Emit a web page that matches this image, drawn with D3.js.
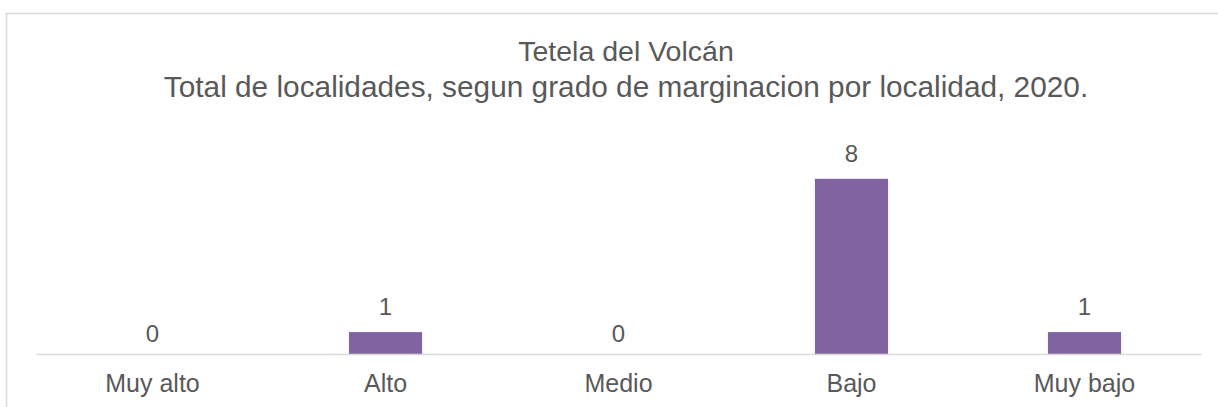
<!DOCTYPE html>
<meta charset="utf-8">
<title>Tetela del Volcán</title>
<script src="https://d3js.org/d3.v7.min.js"></script>
<style>
  body { margin: 0; background: #fff; }
  text { font-family: Arial, "Liberation Sans", sans-serif; fill: #595959; }
</style>
<body>
<svg id="chart" width="1218" height="407"></svg>
<script>

// data
var categories = ["Muy alto", "Alto", "Medio", "Bajo", "Muy bajo"];
var values = [0, 1, 0, 8, 1];
var titleLines = ["Tetela del Volcán",
  "Total de localidades, segun grado de marginacion por localidad, 2020."];

var svg = d3.select("#chart"),
    width = +svg.attr("width"),
    height = +svg.attr("height");

// outer frame (runs off the right and bottom edges in the original)
svg.append("rect")
    .attr("x", 6.5).attr("y", 13.5)
    .attr("width", width + 10).attr("height", height + 10)
    .attr("fill", "none")
    .attr("stroke", "#d9d9d9")
    .attr("stroke-width", 1.5);

var x = d3.scaleBand()
    .domain(categories)
    .range([36, 1201])
    .paddingInner(0.686)
    .paddingOuter(0.343);

var y = d3.scaleLinear()
    .domain([0, 10])
    .range([354, 135]);

// title
svg.append("g").selectAll("text")
    .data(titleLines)
  .enter().append("text")
    .attr("x", 626)
    .attr("y", function(d, i) { return 61 + i * 36; })
    .attr("text-anchor", "middle")
    .style("font-size", function(d, i) { return i ? "29.8px" : "28.5px"; })
    .text(function(d) { return d; });

// bars
svg.append("g").selectAll("rect")
    .data(values)
  .enter().append("rect")
    .attr("x", function(d, i) { return x(categories[i]); })
    .attr("y", function(d) { return y(d); })
    .attr("width", x.bandwidth())
    .attr("height", function(d) { return y(0) - y(d); })
    .attr("fill", "#8064a2");

// value labels
svg.append("g").selectAll("text")
    .data(values)
  .enter().append("text")
    .attr("x", function(d, i) { return x(categories[i]) + x.bandwidth() / 2; })
    .attr("y", function(d) { return y(d) - (d > 0 ? 17 : 12); })
    .attr("text-anchor", "middle")
    .style("font-size", "24px")
    .text(function(d) { return d; });

// category axis
var axis = svg.append("g")
    .attr("transform", "translate(0," + y(0) + ")")
    .call(d3.axisBottom(x).tickSize(0).tickPadding(20));
axis.select(".domain").attr("stroke", "#d9d9d9").attr("stroke-width", 1.5);
axis.selectAll("text")
    .attr("fill", "#595959")
    .style("font-family", "Arial, 'Liberation Sans', sans-serif")
    .style("font-size", "25px");

</script>
</body>
